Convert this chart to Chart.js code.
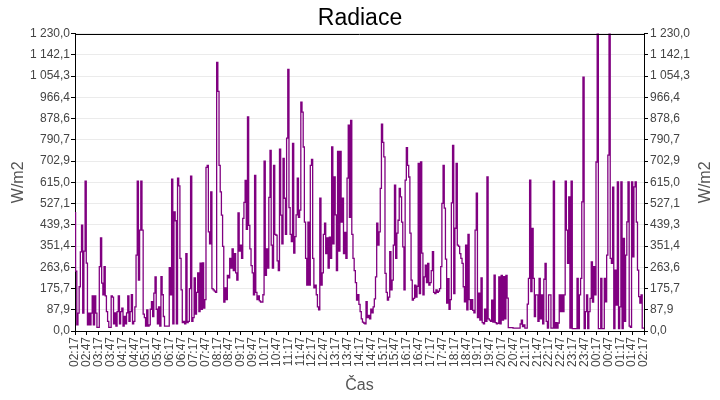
<!DOCTYPE html>
<html>
<head>
<meta charset="utf-8">
<script src="https://cdn.jsdelivr.net/npm/chart.js"></script>
<style>
  body { margin: 0; background: #fff; }
</style>
</head>
<body>
<canvas id="myChart" width="720" height="400"></canvas>
<script>
    // x tick labels, one every 30 minutes
    const xTickLabels = [
        '02:17', '02:47', '03:17', '03:47', '04:17', '04:47', '05:17', '05:47',
        '06:17', '06:47', '07:17', '07:47', '08:17', '08:47', '09:17', '09:47',
        '10:17', '10:47', '11:17', '11:47', '12:17', '12:47', '13:17', '13:47',
        '14:17', '14:47', '15:17', '15:47', '16:17', '16:47', '17:17', '17:47',
        '18:17', '18:47', '19:17', '19:47', '20:17', '20:47', '21:17', '21:47',
        '22:17', '22:47', '23:17', '23:47', '00:17', '00:47', '01:17', '01:47',
        '02:17'
    ];

    // y tick values (W/m2)
    const yTicks = [0, 87.9, 175.7, 263.6, 351.4, 439.3, 527.1, 615.0,
        702.9, 790.7, 878.6, 966.4, 1054.3, 1142.1, 1230.0];

    // minutes between samples
    const stepMinutes = 3;

    // radiation readings, one row per hour starting at 02:17
    const radiace = [
        489, 248, 25, 74, 183, 327, 438, 74, 330, 620,   281, 25, 74, 25, 74, 145, 25, 145, 74, 15,
        15, 266, 385, 198, 150, 266, 145, 80, 40, 15,     15, 145, 140, 30, 75, 20, 80, 145, 30, 80,
        95, 20, 60, 30, 75, 145, 40, 80, 150, 30,         40, 100, 314, 620, 210, 417, 620, 417, 70, 55,
        20, 87, 20, 25, 90, 121, 60, 157, 224, 90,        30, 100, 20, 225, 150, 60, 20, 20, 20, 20,
        262, 150, 628, 30, 493, 456, 30, 632, 600, 300,   170, 35, 40, 30, 320, 35, 40, 175, 640, 40,
        55, 220, 70, 160, 240, 80, 281, 90, 282, 95,      130, 677, 685, 410, 360, 575, 175, 170, 165, 160,
        1111, 991, 685, 575, 479, 350, 120, 178, 130, 230, 220, 300, 260, 340, 250, 320, 240, 210, 488, 330,
        355, 300, 466, 532, 623, 420, 885, 437, 340, 270, 240, 150, 644, 160, 130, 145, 125, 120, 120, 150,
        702, 230, 340, 260, 553, 747, 355, 260, 685, 400, 396, 290, 250, 752, 479, 360, 714, 549, 400, 798,
        1082, 510, 400, 370, 776, 322, 390, 480, 632, 470, 500, 947, 905, 761, 450, 300, 190, 450, 190, 685,
        710, 300, 178, 190, 150, 100, 87, 549, 190, 240,  400, 446, 320, 385, 260, 388, 300, 761, 360, 637,
        480, 250, 743, 330, 743, 450, 549, 320, 408, 300, 632, 851, 470, 871, 400, 300, 250, 200, 128, 150,
        110, 80, 50, 37, 33, 30, 121, 55, 65, 50,         90, 75, 100, 133, 224, 446, 355, 410, 590, 855,
        780, 720, 238, 160, 128, 140, 328, 170, 210, 355, 603, 300, 405, 458, 590, 555, 450, 348, 170, 624,
        758, 685, 637, 405, 210, 128, 135, 190, 140, 185, 693, 155, 699, 322, 150, 224, 272, 200, 280, 190,
        200, 250, 328, 160, 155, 170, 160, 165, 175, 266, 528, 685, 508, 297, 115, 217, 90, 130, 530, 768,
        155, 425, 693, 355, 350, 320, 300, 280, 183, 121, 355, 87, 400, 130, 90, 130, 85, 75, 417, 570,
        55, 157, 45, 220, 35, 30, 90, 40, 637, 50,        45, 40, 128, 37, 231, 35, 30, 32, 224, 30,
        230, 45, 225, 50, 230, 136, 14, 14, 14, 14,       12, 12, 12, 12, 12, 12, 29, 45, 18, 25,
        12, 12, 111, 218, 624, 163, 424, 218, 60, 149,    149, 40, 218, 50, 149, 30, 214, 280, 40, 12,
        149, 149, 12, 12, 620, 12, 35, 12, 33, 149,       80, 149, 80, 149, 620, 417, 280, 555, 12, 620,
        10, 10, 10, 10, 218, 10, 149, 218, 534, 1050,     10, 80, 149, 10, 80, 135, 286, 120, 266, 149,
        699, 1230, 10, 10, 218, 10, 10, 218, 121, 314,    727, 1230, 300, 280, 595, 10, 252, 107, 617, 10,
        100, 617, 10, 383, 40, 314, 451, 617, 20, 15,     617, 307, 596, 617, 450, 252, 142, 115, 149, 12,
        12
    ];

    const points = radiace.map((v, i) => ({ x: i * stepMinutes, y: v }));

    const fmt = v => {
        const s = v.toFixed(1).split('.');
        return s[0].replace(/\B(?=(\d{3})+(?!\d))/g, ' ') + ',' + s[1];
    };

    // top edge of the plot frame + right axis title reading upwards
    const frame = {
        id: 'frame',
        afterDraw(chart) {
            const { ctx, chartArea: a } = chart;
            ctx.save();
            ctx.strokeStyle = '#000';
            ctx.lineWidth = 1;
            ctx.beginPath();
            ctx.moveTo(a.left, Math.round(a.top) + 0.5);
            ctx.lineTo(a.right, Math.round(a.top) + 0.5);
            ctx.stroke();
            ctx.translate(chart.width - 14, (a.top + a.bottom) / 2);
            ctx.rotate(-Math.PI / 2);
            ctx.fillStyle = '#555';
            ctx.font = '16px "Liberation Sans"';
            ctx.textAlign = 'center';
            ctx.textBaseline = 'middle';
            ctx.fillText('W/m2', 0, 0);
            ctx.restore();
        }
    };

    const tickFont = { family: 'Liberation Sans', size: 12 };
    const titleFont = { family: 'Liberation Sans', size: 16 };

    var ctx = document.getElementById('myChart').getContext('2d');
    var myChart = new Chart(ctx, {
        type: 'line',
        data: {
            datasets: [{
                label: 'Radiace',
                data: points,
                borderColor: '#800080',
                borderWidth: 1.3,
                pointRadius: 0,
                stepped: 'middle',
                fill: false,
                yAxisID: 'y'
            }]
        },
        options: {
            responsive: false,
            animation: false,
            devicePixelRatio: 1,
            layout: { padding: 0 },
            plugins: {
                legend: { display: false },
                tooltip: { enabled: false },
                title: {
                    display: true,
                    text: 'Radiace',
                    color: '#000',
                    font: { family: 'Liberation Sans', size: 23, weight: 'normal' },
                    padding: { top: 5, bottom: 1 }
                }
            },
            scales: {
                x: {
                    type: 'linear',
                    min: 0,
                    max: (xTickLabels.length - 1) * 30,
                    afterBuildTicks: s => { s.ticks = xTickLabels.map((t, i) => ({ value: i * 30 })); },
                    afterFit: s => { s.height = 69; },
                    ticks: {
                        autoSkip: false,
                        minRotation: 90,
                        maxRotation: 90,
                        padding: 2,
                        color: '#444',
                        font: tickFont,
                        callback: (v, i) => xTickLabels[i]
                    },
                    grid: { drawOnChartArea: false, tickColor: '#000', tickLength: 4 },
                    border: { color: '#000' },
                    title: { display: true, text: 'Čas', color: '#555', font: titleFont, padding: { bottom: 5 } }
                },
                y: {
                    position: 'left',
                    min: 0,
                    max: 1230,
                    afterBuildTicks: s => { s.ticks = yTicks.map(v => ({ value: v })); },
                    afterFit: s => { s.width = 75; },
                    ticks: { padding: 1, color: '#444', font: tickFont, callback: v => fmt(v) },
                    grid: { color: '#ebebeb', tickColor: '#000', tickLength: 4 },
                    border: { color: '#000' },
                    title: { display: true, text: 'W/m2', color: '#555', font: titleFont, padding: { top: 9 } }
                },
                y2: {
                    position: 'right',
                    min: 0,
                    max: 1230,
                    afterBuildTicks: s => { s.ticks = yTicks.map(v => ({ value: v })); },
                    afterFit: s => { s.width = 76; },
                    ticks: { padding: 2, color: '#444', font: tickFont, callback: v => fmt(v) },
                    grid: { drawOnChartArea: false, tickColor: '#000', tickLength: 4 },
                    border: { color: '#000' }
                }
            }
        },
        plugins: [frame]
    });
</script>
</body>
</html>
